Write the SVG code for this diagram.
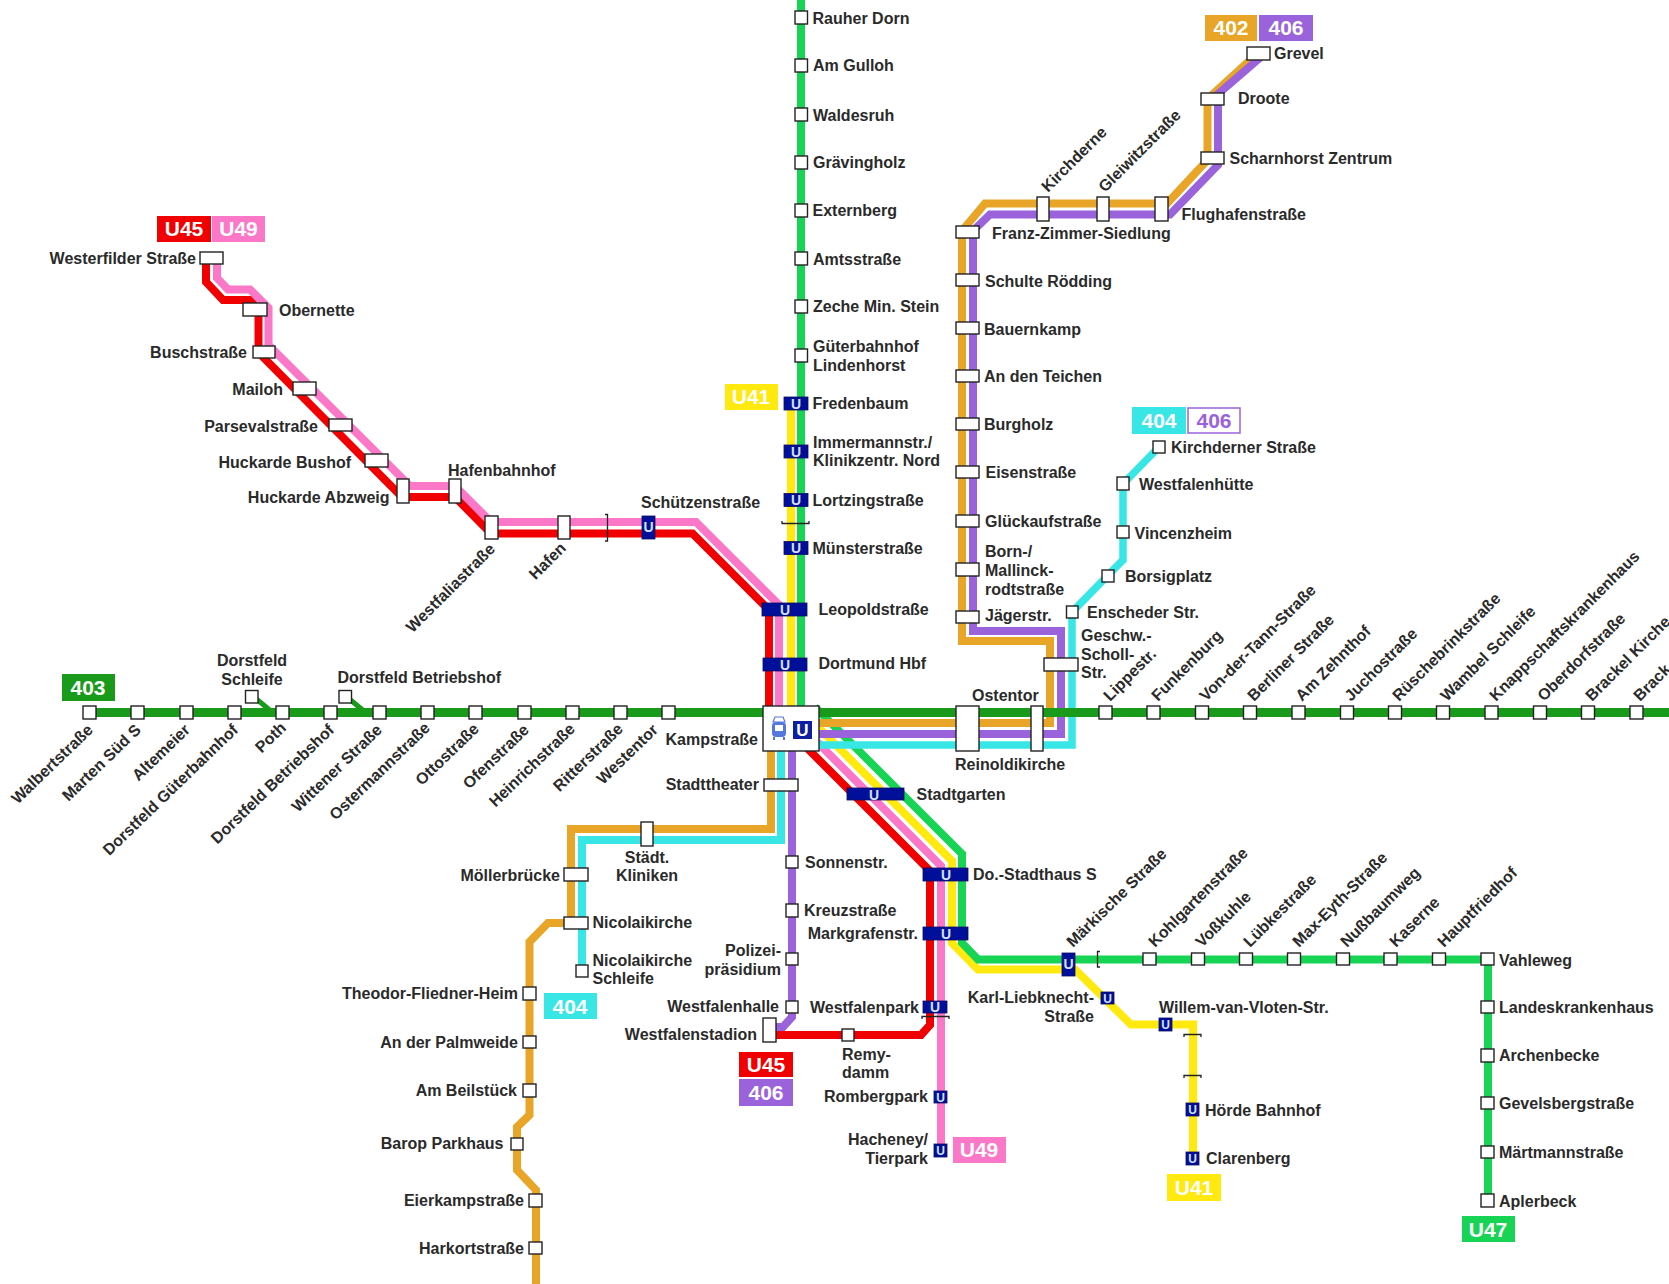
<svg xmlns="http://www.w3.org/2000/svg" width="1669" height="1284" viewBox="0 0 1669 1284">
<style>
text{font-family:"Liberation Sans",Arial,sans-serif;font-weight:700;font-size:16px;fill:#2a2a2a}
.e{text-anchor:end}
.m{text-anchor:middle}
.s{fill:#fff;stroke:#222;stroke-width:1.4}
.b{fill:#000f9a;stroke:#0a0a60;stroke-width:.8}
.ul{fill:#d5e2ff;text-anchor:middle;font-size:14px}
.bd{fill:#fff;text-anchor:middle;font-size:21px}
.l{fill:none;stroke-width:8;stroke-linejoin:miter}
.red{stroke:#f00000}.pink{stroke:#fb78c8}.yel{stroke:#ffe90f}.grn{stroke:#17d454}
.org{stroke:#e8a528}.pur{stroke:#9a63dc}.cya{stroke:#38e6e6}.g403{stroke:#1a9a1a;stroke-width:9}
.br{fill:none;stroke:#222;stroke-width:1.3}
</style>
<rect width="1669" height="1284" fill="#fff"/>
<g id="connectors">
<path class="l red" d="M206 258V282L223 300H250L258.5 310V352L264 358L402 497H455L491 533.5H692.5L769 610V712M800 741L930 871V1025L921 1035H776"/>
<path class="l pink" d="M217 258V278L228 289.5H250L268.5 308V345L410 486H455L491 522H696L779 605V712M800 725L941 866V1150"/>
<path class="l yel" d="M791 403V712M810 719L952 861V943L978 969.5H1075L1131 1024.5H1193V1158"/>
<path class="l grn" d="M801 0V712M815 707L962 854V943L978 959.5H1488V1200"/>
<path class="l org" d="M819 723H1050V641H962V231L985 203.5H1167L1207.5 160V99L1258 53"/>
<path class="l pur" d="M819 734H1061V631H973V231L990 214.5H1170L1218 165V94L1262 56"/>
<path class="l cya" d="M819 745H1072V612L1123 560V484L1159 447" style="stroke-width:7.5"/>
<path class="l org" d="M771 751V829H571V923H548L529.5 942V1115L517 1127V1170L536 1190V1284"/>
<path class="l cya" d="M781 751V840H582V968"/>
<path class="l pur" d="M792 751V1017L783 1027H772"/>
<path class="l g403" d="M89 712.5H1669"/>
<path class="l" style="stroke:#1a9a1a;stroke-width:5" d="M254 697L272 712M347 697L365 712"/>
<path class="br" d="M605 514.500h2.500V541H605"/>
<path class="br" d="M782 521v2.500H809V521"/>
<path class="br" d="M922 1019V1016.500H949V1019"/>
<path class="br" d="M1100 951.500H1097.500V967H1100"/>
<path class="br" d="M1184 1037V1034.500H1201V1037"/>
<path class="br" d="M1184 1078V1075.500H1201V1078"/>
</g>

<g id="badge-u45-u49"><rect x="157" y="216" width="54" height="26" fill="#f00000"/><text class="bd" x="184" y="236">U45</text><rect x="212" y="216" width="53" height="26" fill="#fb78c8"/><text class="bd" x="238.500" y="236">U49</text></g>
<g id="badge-403"><rect x="62" y="674" width="53" height="27" fill="#1a9a1a"/><text class="bd" x="88" y="695">403</text></g>
<g id="badge-402-406"><rect x="1205" y="15" width="52" height="26" fill="#e8a528"/><text class="bd" x="1231" y="35">402</text><rect x="1259" y="15" width="54" height="26" fill="#9a63dc"/><text class="bd" x="1286" y="35">406</text></g>
<g id="badge-u41-n"><rect x="725" y="384" width="53" height="26" fill="#ffe90f"/><text class="bd" x="751" y="404">U41</text></g>
<g id="badge-404-406"><rect x="1132" y="407" width="54" height="27" fill="#38e6e6"/><text class="bd" x="1159" y="428">404</text><rect x="1188" y="408" width="52" height="25" fill="#fff" stroke="#9a63dc" stroke-width="1.500"/><text class="bd" x="1214" y="428" style="fill:#9a63dc">406</text></g>
<g id="badge-404-s"><rect x="544" y="993" width="53" height="26" fill="#38e6e6"/><text class="bd" x="570" y="1014">404</text></g>
<g id="badge-u45-406"><rect x="739" y="1052" width="54" height="25" fill="#f00000"/><text class="bd" x="766" y="1072">U45</text><rect x="739" y="1079" width="54" height="27" fill="#9a63dc"/><text class="bd" x="766" y="1100">406</text></g>
<g id="badge-u49-s"><rect x="953" y="1137" width="53" height="26" fill="#fb78c8"/><text class="bd" x="979" y="1157">U49</text></g>
<g id="badge-u41-s"><rect x="1167" y="1174" width="54" height="27" fill="#ffe90f"/><text class="bd" x="1194" y="1195">U41</text></g>
<g id="badge-u47"><rect x="1462" y="1216" width="53" height="26" fill="#17d454"/><text class="bd" x="1488" y="1237">U47</text></g>

<g id="kampstrasse"><rect class="s" x="763" y="706" width="56" height="45"/><rect x="772" y="722" width="14" height="15" rx="4" fill="#5478dc"/><rect x="775" y="725" width="8" height="6" fill="#fff"/><path d="M775 717H783L785 722H773Z" fill="none" stroke="#5478dc" stroke-width="1.200"/><path d="M774 737V740M784 737V740" stroke="#5478dc" stroke-width="2"/><rect x="793" y="721" width="19" height="18" fill="#0b1fa0"/><text class="m" x="802.500" y="736" style="fill:#fff;font-size:17px">U</text><text class="e" x="758" y="745">Kampstraße</text></g>

<g id="walbertstrasse"><rect class="s" x="83" y="706" width="13" height="13"/><text class="e" transform="translate(94 731) rotate(-44)">Walbertstraße</text></g>
<g id="marten-sued"><rect class="s" x="131" y="706" width="13" height="13"/><text class="e" transform="translate(142 731) rotate(-44)">Marten Süd S</text></g>
<g id="altemeier"><rect class="s" x="180" y="706" width="13" height="13"/><text class="e" transform="translate(191 731) rotate(-44)">Altemeier</text></g>
<g id="dorstfeld-gueterbahnhof"><rect class="s" x="228" y="706" width="13" height="13"/><text class="e" transform="translate(239 731) rotate(-44)">Dorstfeld Güterbahnhof</text></g>
<g id="poth"><rect class="s" x="276" y="706" width="13" height="13"/><text class="e" transform="translate(287 729) rotate(-44)">Poth</text></g>
<g id="dorstfeld-betriebshof-s"><rect class="s" x="324" y="706" width="13" height="13"/><text class="e" transform="translate(335 731) rotate(-44)">Dorstfeld Betriebshof</text></g>
<g id="wittener-strasse"><rect class="s" x="373" y="706" width="13" height="13"/><text class="e" transform="translate(383 731) rotate(-44)">Wittener Straße</text></g>
<g id="ostermannstrasse"><rect class="s" x="421" y="706" width="13" height="13"/><text class="e" transform="translate(431 729) rotate(-44)">Ostermannstraße</text></g>
<g id="ottostrasse"><rect class="s" x="469" y="706" width="13" height="13"/><text class="e" transform="translate(480 730) rotate(-44)">Ottostraße</text></g>
<g id="ofenstrasse"><rect class="s" x="518" y="706" width="13" height="13"/><text class="e" transform="translate(530 731) rotate(-44)">Ofenstraße</text></g>
<g id="heinrichstrasse"><rect class="s" x="566" y="706" width="13" height="13"/><text class="e" transform="translate(576 730) rotate(-44)">Heinrichstraße</text></g>
<g id="ritterstrasse"><rect class="s" x="614" y="706" width="13" height="13"/><text class="e" transform="translate(624 730) rotate(-44)">Ritterstraße</text></g>
<g id="westentor"><rect class="s" x="662" y="706" width="13" height="13"/><text class="e" transform="translate(659 731) rotate(-44)">Westentor</text></g>
<g id="dorstfeld-schleife"><rect class="s" x="245.500" y="690.500" width="12.500" height="12.500"/><text class="m" x="252" y="665.500">Dorstfeld</text><text class="m" x="252" y="685">Schleife</text></g>
<g id="dorstfeld-betriebshof"><rect class="s" x="339" y="690.500" width="12.500" height="12.500"/><text x="337.500" y="682.500">Dorstfeld Betriebshof</text></g>

<g id="lippestrasse"><rect class="s" x="1099" y="706" width="13" height="13"/><text transform="translate(1110 702) rotate(-45)">Lippestr.</text></g>
<g id="funkenburg"><rect class="s" x="1147" y="706" width="13" height="13"/><text transform="translate(1158 702) rotate(-45)">Funkenburg</text></g>
<g id="von-der-tann"><rect class="s" x="1195.500" y="706" width="13" height="13"/><text transform="translate(1206 702) rotate(-45)">Von-der-Tann-Straße</text></g>
<g id="berliner"><rect class="s" x="1243.500" y="706" width="13" height="13"/><text transform="translate(1254 702) rotate(-45)">Berliner Straße</text></g>
<g id="zehnthof"><rect class="s" x="1292" y="706" width="13" height="13"/><text transform="translate(1302 702) rotate(-45)">Am Zehnthof</text></g>
<g id="juchostrasse"><rect class="s" x="1340.500" y="706" width="13" height="13"/><text transform="translate(1351 702) rotate(-45)">Juchostraße</text></g>
<g id="rueschebrink"><rect class="s" x="1388.500" y="706" width="13" height="13"/><text transform="translate(1399 702) rotate(-45)">Rüschebrinkstraße</text></g>
<g id="wambel"><rect class="s" x="1436.500" y="706" width="13" height="13"/><text transform="translate(1447 702) rotate(-45)">Wambel Schleife</text></g>
<g id="knappschaft"><rect class="s" x="1485" y="706" width="13" height="13"/><text transform="translate(1496 702) rotate(-45)">Knappschaftskrankenhaus</text></g>
<g id="oberdorf"><rect class="s" x="1533.500" y="706" width="13" height="13"/><text transform="translate(1544 702) rotate(-45)">Oberdorfstraße</text></g>
<g id="brackel-kirche"><rect class="s" x="1581.500" y="706" width="13" height="13"/><text transform="translate(1592 702) rotate(-45)">Brackel Kirche</text></g>
<g id="brack"><rect class="s" x="1630" y="706" width="13" height="13"/><text transform="translate(1640 702) rotate(-45)">Brack</text></g>

<g id="rauher-dorn"><rect class="s" x="795" y="11" width="12.500" height="13"/><text x="812.500" y="24">Rauher Dorn</text></g>
<g id="am-gulloh"><rect class="s" x="795" y="59" width="12.500" height="13"/><text x="813" y="71">Am Gulloh</text></g>
<g id="waldesruh"><rect class="s" x="795" y="108" width="12.500" height="13"/><text x="813" y="121">Waldesruh</text></g>
<g id="graevingholz"><rect class="s" x="795" y="156" width="12.500" height="13"/><text x="813" y="168">Grävingholz</text></g>
<g id="externberg"><rect class="s" x="795" y="204" width="12.500" height="13"/><text x="812.500" y="216">Externberg</text></g>
<g id="amtsstrasse"><rect class="s" x="795" y="252" width="12.500" height="13"/><text x="813" y="265">Amtsstraße</text></g>
<g id="zeche"><rect class="s" x="795" y="300" width="12.500" height="13"/><text x="813" y="312">Zeche Min. Stein</text></g>
<g id="gueterbahnhof"><rect class="s" x="795" y="349" width="12.500" height="13"/><text x="813" y="352">Güterbahnhof</text><text x="813" y="371">Lindenhorst</text></g>
<g id="fredenbaum"><rect class="b" x="784" y="397" width="24" height="13"/><text class="ul" x="796" y="408.500">U</text><text x="812.500" y="408.500">Fredenbaum</text></g>
<g id="immermannstr"><rect class="b" x="784" y="445" width="24" height="13"/><text class="ul" x="796" y="456.500">U</text><text x="813" y="448">Immermannstr./</text><text x="813" y="466">Klinikzentr. Nord</text></g>
<g id="lortzingstrasse"><rect class="b" x="784" y="493.500" width="24" height="13"/><text class="ul" x="796" y="505">U</text><text x="812.500" y="505.500">Lortzingstraße</text></g>
<g id="muensterstrasse"><rect class="b" x="784" y="541.500" width="24" height="13"/><text class="ul" x="796" y="553">U</text><text x="812.500" y="554">Münsterstraße</text></g>
<g id="leopoldstrasse"><rect class="b" x="762" y="603" width="45" height="13"/><text class="ul" x="785" y="614.500">U</text><text x="818.500" y="615">Leopoldstraße</text></g>
<g id="hbf"><rect class="b" x="763" y="658" width="44" height="13"/><text class="ul" x="785" y="669.500">U</text><text x="818.500" y="669">Dortmund Hbf</text></g>

<g id="westerfilder"><rect class="s" x="200" y="252" width="23" height="12"/><text class="e" x="196" y="264">Westerfilder Straße</text></g>
<g id="obernette"><rect class="s" x="243" y="303" width="24" height="13"/><text x="279" y="316">Obernette</text></g>
<g id="buschstrasse"><rect class="s" x="253" y="346" width="22" height="12"/><text class="e" x="247" y="358">Buschstraße</text></g>
<g id="mailoh"><rect class="s" x="293" y="382" width="23" height="13"/><text class="e" x="283" y="395">Mailoh</text></g>
<g id="parseval"><rect class="s" x="329" y="419" width="23" height="12"/><text class="e" x="318" y="431.500">Parsevalstraße</text></g>
<g id="bushof"><rect class="s" x="365" y="454" width="23" height="13"/><text class="e" x="351" y="467.500">Huckarde Bushof</text></g>
<g id="abzweig"><rect class="s" x="397" y="479" width="12" height="24"/><text class="e" x="389.500" y="503">Huckarde Abzweig</text></g>
<g id="hafenbahnhof"><rect class="s" x="449" y="479" width="12" height="24"/><text x="448" y="475.500">Hafenbahnhof</text></g>
<g id="westfaliastrasse"><rect class="s" x="485" y="516" width="13" height="23"/><text class="e" transform="translate(496 550) rotate(-45)">Westfaliastraße</text></g>
<g id="hafen"><rect class="s" x="558" y="516" width="12" height="23"/><text class="e" transform="translate(567 549) rotate(-45)">Hafen</text></g>
<g id="schuetzenstrasse"><rect class="b" x="642" y="516" width="13" height="23"/><text class="ul" x="648.500" y="532">U</text><text x="641" y="507.500">Schützenstraße</text></g>

<g id="grevel"><rect class="s" x="1247" y="47" width="23" height="13"/><text x="1274" y="59">Grevel</text></g>
<g id="droote"><rect class="s" x="1201" y="93" width="23" height="12"/><text x="1238" y="104">Droote</text></g>
<g id="scharnhorst"><rect class="s" x="1201" y="152" width="23" height="12"/><text x="1229.500" y="163.500">Scharnhorst Zentrum</text></g>
<g id="flughafenstrasse"><rect class="s" x="1155" y="197" width="13" height="24"/><text x="1181.500" y="220">Flughafenstraße</text></g>
<g id="gleiwitzstrasse"><rect class="s" x="1097" y="197" width="12" height="24"/><text transform="translate(1105 193) rotate(-45)">Gleiwitzstraße</text></g>
<g id="kirchderne"><rect class="s" x="1037" y="197" width="12" height="24"/><text transform="translate(1048 193) rotate(-45)">Kirchderne</text></g>
<g id="franz-zimmer"><rect class="s" x="956" y="226" width="23" height="12"/><text x="992" y="239">Franz-Zimmer-Siedlung</text></g>
<g id="schulte-roedding"><rect class="s" x="956" y="274" width="23" height="12"/><text x="985" y="287">Schulte Rödding</text></g>
<g id="bauernkamp"><rect class="s" x="956" y="322" width="23" height="12"/><text x="984" y="334.500">Bauernkamp</text></g>
<g id="an-den-teichen"><rect class="s" x="956" y="370" width="23" height="12"/><text x="984" y="381.500">An den Teichen</text></g>
<g id="burgholz"><rect class="s" x="956" y="418" width="23" height="12"/><text x="984" y="429.500">Burgholz</text></g>
<g id="eisenstrasse"><rect class="s" x="956" y="466" width="23" height="12"/><text x="985.500" y="478">Eisenstraße</text></g>
<g id="glueckaufstrasse"><rect class="s" x="956" y="515" width="23" height="12"/><text x="985" y="526.500">Glückaufstraße</text></g>
<g id="mallinckrodt"><rect class="s" x="956" y="563" width="23" height="13"/><text x="985" y="557">Born-/</text><text x="985" y="576">Mallinck-</text><text x="985" y="594.500">rodtstraße</text></g>
<g id="jaegerstr"><rect class="s" x="956" y="611" width="23" height="12"/><text x="985" y="621">Jägerstr.</text></g>
<g id="geschw-scholl"><rect class="s" x="1044" y="658" width="34" height="13"/><text x="1081" y="641">Geschw.-</text><text x="1081" y="660">Scholl-</text><text x="1081" y="678">Str.</text></g>
<g id="ostentor"><rect class="s" x="1031" y="706" width="12" height="45"/><text x="972" y="701">Ostentor</text></g>
<g id="reinoldikirche"><rect class="s" x="956" y="706" width="23" height="45"/><text x="955" y="770">Reinoldikirche</text></g>
<g id="enscheder"><rect class="s" x="1066.500" y="606" width="11.500" height="12"/><text x="1087" y="618">Enscheder Str.</text></g>
<g id="borsigplatz"><rect class="s" x="1102" y="570" width="12" height="12"/><text x="1125" y="582">Borsigplatz</text></g>
<g id="vincenzheim"><rect class="s" x="1117" y="526" width="12" height="12"/><text x="1134.500" y="538.500">Vincenzheim</text></g>
<g id="westfalenhuette"><rect class="s" x="1117" y="477" width="12" height="13"/><text x="1139" y="490">Westfalenhütte</text></g>
<g id="kirchderner"><rect class="s" x="1153" y="441" width="12" height="12"/><text x="1171" y="453">Kirchderner Straße</text></g>

<g id="stadttheater"><rect class="s" x="764" y="779" width="34" height="12"/><text class="e" x="759" y="790">Stadttheater</text></g>
<g id="staedt-kliniken"><rect class="s" x="641" y="822" width="12" height="24"/><text class="m" x="647" y="863">Städt.</text><text class="m" x="647" y="881">Kliniken</text></g>
<g id="moellerbruecke"><rect class="s" x="564" y="868" width="24" height="13"/><text class="e" x="560" y="881">Möllerbrücke</text></g>
<g id="nicolaikirche"><rect class="s" x="564" y="917" width="24" height="12"/><text x="592.500" y="928">Nicolaikirche</text></g>
<g id="nicolaikirche-schleife"><rect class="s" x="576" y="965" width="12" height="12"/><text x="592.500" y="966">Nicolaikirche</text><text x="592.500" y="984">Schleife</text></g>
<g id="theodor"><rect class="s" x="523" y="987" width="13" height="13"/><text class="e" x="518" y="999">Theodor-Fliedner-Heim</text></g>
<g id="palmweide"><rect class="s" x="523" y="1036" width="13" height="12"/><text class="e" x="518" y="1047.500">An der Palmweide</text></g>
<g id="beilstueck"><rect class="s" x="523" y="1084" width="13" height="13"/><text class="e" x="517" y="1096">Am Beilstück</text></g>
<g id="barop"><rect class="s" x="511" y="1138" width="12" height="12"/><text class="e" x="503.500" y="1149">Barop Parkhaus</text></g>
<g id="eierkamp"><rect class="s" x="529" y="1194" width="13" height="13"/><text class="e" x="524" y="1205.500">Eierkampstraße</text></g>
<g id="harkort"><rect class="s" x="529" y="1242" width="13" height="12"/><text class="e" x="524" y="1253.500">Harkortstraße</text></g>

<g id="sonnenstr"><rect class="s" x="786" y="856" width="12" height="12"/><text x="805" y="868">Sonnenstr.</text></g>
<g id="kreuzstrasse"><rect class="s" x="786" y="904" width="12" height="13"/><text x="804" y="916">Kreuzstraße</text></g>
<g id="polizei"><rect class="s" x="786" y="953" width="12" height="12"/><text class="e" x="781" y="956">Polizei-</text><text class="e" x="781" y="975">präsidium</text></g>
<g id="westfalenhalle"><rect class="s" x="786" y="1001" width="12" height="12"/><text class="e" x="779" y="1012">Westfalenhalle</text></g>
<g id="westfalenstadion"><rect class="s" x="763" y="1018" width="13" height="24"/><text class="e" x="757" y="1040">Westfalenstadion</text></g>
<g id="remydamm"><rect class="s" x="842" y="1029" width="12" height="12"/><text x="842" y="1059.500">Remy-</text><text x="842" y="1077.500">damm</text></g>

<g id="stadtgarten"><rect class="b" x="847" y="788" width="57" height="12"/><text class="ul" x="874" y="799.500">U</text><text x="916.500" y="799.500">Stadtgarten</text></g>
<g id="stadthaus"><rect class="b" x="923" y="868" width="45" height="13"/><text class="ul" x="946" y="879.500">U</text><text x="973" y="880">Do.-Stadthaus S</text></g>
<g id="markgrafenstr"><rect class="b" x="923" y="927" width="45" height="13"/><text class="ul" x="946" y="938.500">U</text><text class="e" x="918" y="939">Markgrafenstr.</text></g>
<g id="westfalenpark"><rect class="b" x="923" y="1001" width="24" height="12"/><text class="ul" x="935" y="1012">U</text><text class="e" x="919" y="1013">Westfalenpark</text></g>
<g id="rombergpark"><rect class="b" x="934" y="1091" width="13" height="12"/><text class="ul" x="940.500" y="1102" style="font-size:12px">U</text><text class="e" x="928" y="1102">Rombergpark</text></g>
<g id="hacheney"><rect class="b" x="934" y="1144" width="13" height="13"/><text class="ul" x="940.500" y="1155" style="font-size:12px">U</text><text class="e" x="928" y="1145">Hacheney/</text><text class="e" x="928" y="1164">Tierpark</text></g>
<g id="maerkische"><rect class="b" x="1062" y="953" width="13" height="23"/><text class="ul" x="1068.500" y="969">U</text><text transform="translate(1073 948) rotate(-44.500)">Märkische Straße</text></g>
<g id="karl-liebknecht"><rect class="b" x="1101" y="992" width="13" height="12"/><text class="ul" x="1107.500" y="1003" style="font-size:12px">U</text><text class="e" x="1094" y="1003">Karl-Liebknecht-</text><text class="e" x="1094" y="1022">Straße</text></g>
<g id="willem"><rect class="b" x="1159" y="1018" width="13" height="13"/><text class="ul" x="1165.500" y="1029" style="font-size:12px">U</text><text x="1159" y="1012.500">Willem-van-Vloten-Str.</text></g>
<g id="hoerde"><rect class="b" x="1186" y="1103" width="13" height="13"/><text class="ul" x="1192.500" y="1114" style="font-size:12px">U</text><text x="1205" y="1115.500">Hörde Bahnhof</text></g>
<g id="clarenberg"><rect class="b" x="1186" y="1152" width="13" height="13"/><text class="ul" x="1192.500" y="1163" style="font-size:12px">U</text><text x="1206" y="1164">Clarenberg</text></g>

<g id="kohlgarten"><rect class="s" x="1143" y="953" width="13" height="12"/><text transform="translate(1155 948) rotate(-45)">Kohlgartenstraße</text></g>
<g id="vosskuhle"><rect class="s" x="1191.500" y="953" width="13" height="12"/><text transform="translate(1202 948) rotate(-45)">Voßkuhle</text></g>
<g id="luebkestrasse"><rect class="s" x="1239.500" y="953" width="13" height="12"/><text transform="translate(1250 948) rotate(-45)">Lübkestraße</text></g>
<g id="max-eyth"><rect class="s" x="1287.500" y="953" width="13" height="12"/><text transform="translate(1299 948) rotate(-45)">Max-Eyth-Straße</text></g>
<g id="nussbaumweg"><rect class="s" x="1336.500" y="953" width="13" height="12"/><text transform="translate(1347 948) rotate(-45)">Nußbaumweg</text></g>
<g id="kaserne"><rect class="s" x="1384" y="953" width="13" height="12"/><text transform="translate(1396 948) rotate(-45)">Kaserne</text></g>
<g id="hauptfriedhof"><rect class="s" x="1432.500" y="953" width="13" height="12"/><text transform="translate(1444 948) rotate(-45)">Hauptfriedhof</text></g>
<g id="vahleweg"><rect class="s" x="1481" y="953" width="13" height="12"/><text x="1499" y="965.500">Vahleweg</text></g>
<g id="landeskrankenhaus"><rect class="s" x="1481" y="1001" width="13" height="12"/><text x="1499" y="1012.500">Landeskrankenhaus</text></g>
<g id="archenbecke"><rect class="s" x="1481" y="1049" width="13" height="13"/><text x="1499" y="1061">Archenbecke</text></g>
<g id="gevelsberg"><rect class="s" x="1481" y="1097" width="13" height="12"/><text x="1499" y="1109">Gevelsbergstraße</text></g>
<g id="maertmann"><rect class="s" x="1481" y="1146" width="13" height="12"/><text x="1499" y="1157.500">Märtmannstraße</text></g>
<g id="aplerbeck"><rect class="s" x="1481" y="1194" width="13" height="13"/><text x="1499" y="1206.500">Aplerbeck</text></g>
</svg>
